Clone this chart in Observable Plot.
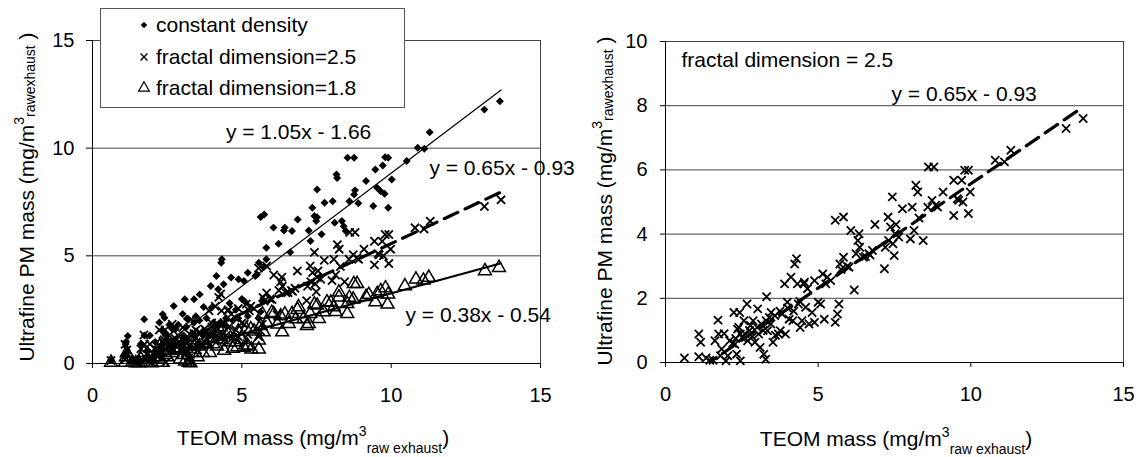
<!DOCTYPE html>
<html><head><meta charset="utf-8">
<script src="https://cdn.jsdelivr.net/npm/d3@7"></script>
<script src="https://cdn.jsdelivr.net/npm/@observablehq/plot@0.6"></script>
<style>
body{margin:0;background:#fff;}
#wrap{position:relative;width:1143px;height:457px;overflow:hidden;background:#fff;}
#left{position:absolute;left:0;top:0;}
#right{position:absolute;left:580px;top:0;}
svg{overflow:visible;}
</style></head><body><div id="wrap"><div id="left"></div><div id="right"></div></div>
<script>
// ---------- DATA ----------
// constant density (filled diamonds), left panel
const cdX = [13.12,13.64,11.29,10.89,11.11,10.52,9.9,9.8,10.02,9.9,
  9.78,9.65,9.53,9.47,9.4,9.16,8.76,8.54,8.79,8.76,
  8.6,8.48,8.35,8.17,8.19,8.04,8.11,7.77,7.67,7.52,
  7.49,7.43,7.36,7.3,6.87,6.68,6.44,6.41,6.06,5.75,
  5.63,5.82,5.82,5.57,5.45,5.2,5.07,4.89,4.64,4.33,
  4.31,4.39,4.21,4.15,3.96,3.59,3.4,3.09,2.72,2.35,
  2.41,1.73,1.18,1.11,
  3.16,3.72,5.51,5.73,6.23,6.62,7.24,7.52,8.41,8.9,9.72,
  0.62,1.09,1.12,1.15,1.33,1.45,1.56,1.62,1.74,1.8,
  1.84,1.92,1.98,2.04,2.1,2.24,2.27,2.33,2.36,2.45,
  2.51,2.57,2.67,2.69,2.78,2.87,2.93,3.02,3.05,3.1,
  3.14,3.22,3.28,3.34,3.4,3.46,3.52,3.58,3.7,3.76,
  3.82,3.93,3.99,4.05,4.17,4.41,4.47,4.59,4.7,4.8,
  4.88,5.0,5.08,5.2,5.56,5.63,5.68];
const cdY = [11.79,12.18,10.74,10.02,9.97,9.4,9.55,9.58,8.55,7.23,
  7.88,8.0,8.16,9.01,7.31,8.47,9.55,9.55,8.04,7.85,
  7.54,6.15,6.62,8.78,8.62,7.54,6.54,7.47,6.0,8.08,
  6.62,6.85,7.23,5.69,6.69,6.15,6.31,6.18,6.31,6.92,
  6.8,4.84,5.38,4.68,4.06,4.22,3.83,3.91,3.99,4.84,
  4.68,3.68,3.45,4.06,3.6,3.21,2.98,2.98,2.67,2.29,
  2.13,2.06,1.28,0.9,
  2.08,2.62,4.13,4.47,5.56,5.17,6.18,6.79,6.37,7.44,9.2,
  0.15,0.4,1.0,0.6,0.2,0.1,0.1,0.9,1.3,0.3,
  0.6,1.3,0.1,0.3,1.0,1.9,0.8,0.4,1.5,1.3,
  1.1,1.8,1.6,1.0,1.6,1.8,0.9,2.3,1.3,0.7,
  1.7,0.4,0.2,1.4,1.9,2.2,0.9,2.0,1.3,1.4,
  2.1,1.3,2.6,1.9,1.8,1.8,2.1,2.8,2.0,2.5,
  2.1,3.0,2.9,2.2,2.1,2.4,2.9];

// fractal dimension = 2.5 (x marks), both panels
const fd25X = [0.62,1.09,1.15,1.09,1.33,1.45,1.56,1.62,1.72,1.74,
  1.8,1.84,1.92,1.98,2.04,2.1,2.24,2.27,2.33,2.36,
  2.43,2.45,2.45,2.51,2.57,2.67,2.69,2.78,2.87,2.93,
  3.02,3.05,3.1,3.14,3.22,3.28,3.31,3.34,3.4,3.46,
  3.52,3.58,3.7,3.76,3.82,3.9,3.93,3.99,4.05,4.11,
  4.17,4.23,4.29,4.32,4.35,4.41,4.47,4.53,4.59,4.7,
  4.8,4.88,4.88,5.0,5.08,5.15,5.2,5.3,5.41,5.56,
  5.56,5.63,5.68,5.71,5.83,5.83,6.01,6.07,6.18,6.24,
  6.3,6.34,6.36,6.48,6.66,6.78,6.86,7.17,7.2,7.29,
  7.31,7.37,7.43,7.49,7.52,7.64,7.76,8.02,8.08,8.14,
  8.2,8.26,8.44,8.59,8.61,8.73,8.79,8.91,9.09,9.44,
  9.44,9.56,9.7,9.74,9.8,9.92,9.92,9.98,10.8,11.1,
  11.31,13.12,13.68,
  2.2,2.3,2.4,2.6,2.75,2.85,3.0,3.2,3.3,3.45,
  3.6,3.75,4.0,4.2,4.4,4.55,4.65,5.25,5.75,5.95,
  6.55,6.7,7.45,7.55,8.3,8.85,9.6];
const fd25Y = [0.14,0.89,0.63,0.18,0.14,0.07,0.07,0.68,1.32,0.89,
  0.21,0.42,0.9,0.05,0.21,0.68,1.56,0.57,0.26,1.04,
  1.56,0.89,0.05,0.78,1.3,1.82,0.68,1.15,1.3,0.63,
  1.67,0.89,0.47,1.2,0.26,0.1,2.05,0.99,1.4,1.56,
  0.63,1.46,0.89,0.99,1.51,2.45,0.89,1.88,1.35,2.66,
  1.3,3.07,3.23,2.45,1.82,1.09,1.3,2.45,1.72,1.2,
  1.56,1.25,2.55,1.88,1.82,2.76,1.35,2.66,2.55,1.25,
  4.43,1.51,1.82,3.07,4.53,3.28,2.97,4.11,2.26,3.39,
  3.8,4.01,3.59,3.28,3.39,3.49,4.3,2.92,3.59,4.53,
  3.8,4.22,5.16,3.33,4.01,3.91,4.79,3.85,4.84,4.11,
  5.52,5.31,3.8,4.84,6.09,5.05,6.09,4.84,5.31,4.58,
  5.68,5.1,5.68,5.0,5.99,5.99,4.64,5.31,6.3,6.25,
  6.61,7.29,7.6,
  0.6,0.75,1.1,0.9,1.0,0.8,1.1,1.0,1.3,1.2,
  0.85,1.6,1.7,1.6,1.9,2.5,2.3,2.45,2.9,3.0,
  3.3,3.35,3.7,4.3,4.5,4.9,5.05];

// fractal dimension = 1.8 (open triangles), left panel
const fd18X = [13.14,13.61,11.26,11.08,10.83,10.46,9.9,9.88,9.81,9.65,
  9.53,9.47,9.25,9.16,8.86,8.75,8.73,8.6,8.53,8.53,
  8.25,8.25,8.08,7.98,7.85,7.74,7.58,7.52,7.43,7.29,
  7.24,7.18,7.07,6.9,6.81,6.68,6.57,6.44,6.35,6.19,
  6.07,6.0,5.73,5.69,5.63,5.57,5.57,5.32,5.18,5.07,
  4.85,
  0.62,1.09,1.12,1.15,1.33,1.45,1.56,1.62,1.72,1.8,
  1.92,1.98,2.1,2.24,2.27,2.33,2.43,2.45,2.51,2.57,
  2.67,2.78,2.87,2.93,3.02,3.05,3.1,3.14,3.22,3.28,
  3.34,3.4,3.46,3.52,3.58,3.7,3.82,3.93,3.99,4.05,
  4.11,4.17,4.23,4.29,4.35,4.41,4.53,4.59,4.7,4.8,
  4.88,5.0,5.15,5.2,5.3,5.41,5.83,6.3,6.86,8.14];
const fd18Y = [4.3,4.45,3.99,3.86,3.91,3.6,3.21,2.75,3.5,3.37,
  3.23,2.85,3.2,3.1,3.7,3.7,2.98,3.06,2.31,2.77,
  3.31,3.08,2.62,2.83,2.85,2.39,2.08,2.7,2.75,2.31,
  1.85,1.75,2.08,2.62,2.06,2.31,1.85,2.29,1.46,1.82,
  2.31,2.36,1.46,2.29,1.75,1.08,0.66,0.66,0.85,0.74,
  0.77,
  0.05,0.05,0.3,0.5,0.05,0.02,0.02,0.2,0.5,0.05,
  0.3,0.02,0.3,0.8,0.2,0.05,0.8,0.4,0.3,0.6,
  0.5,0.6,0.7,0.2,0.9,0.4,0.1,0.7,0.05,0.02,
  0.5,0.8,0.9,0.3,0.8,0.5,0.9,0.5,1.2,0.9,
  1.5,0.8,1.6,1.7,1.1,0.6,1.4,1.0,0.7,1.0,
  1.5,1.1,1.6,0.8,1.6,1.5,1.9,2.2,2.5,2.4];

// regression lines (from the chart's equations)
const fitSlopes = [1.05, 0.65, 0.38];
const fitIntercepts = [-1.66, -0.93, -0.54];
const fitLabels = ["y = 1.05x - 1.66", "y = 0.65x - 0.93", "y = 0.38x - 0.54"];
const fitRange = [0.62, 13.68];

const legendLabels = ["constant density", "fractal dimension=2.5", "fractal dimension=1.8"];
const xTicks = [0, 5, 10, 15];
const yTicksLeft = [0, 5, 10, 15];
const yTicksRight = [0, 2, 4, 6, 8, 10];
const xTitle = ["TEOM mass (mg/m", "3", "raw exhaust", ")"];
const yTitle = ["Ultrafine PM mass (mg/m", "3", "rawexhaust", " )"];
const rightNote = "fractal dimension = 2.5";

// ---------- BUILD ----------
const FONT = "'Liberation Sans', Arial, Helvetica, sans-serif";
const toRows = (xs, ys) => xs.map((x, i) => ({x, y: ys[i]}));
const cd = toRows(cdX, cdY), fd25 = toRows(fd25X, fd25Y), fd18 = toRows(fd18X, fd18Y);
const fitLine = k => fitRange.map(x => ({x, y: fitSlopes[k] * x + fitIntercepts[k]}));

const diamondOpts = {x: "x", y: "y", symbol: "diamond2", fill: "#000", r: 3.6};
const timesOpts = {x: "x", y: "y", symbol: "times", stroke: "#000", r: 3.8, strokeWidth: 1.8};
const triOpts = {x: "x", y: "y", symbol: "triangle", stroke: "#000", fill: "none", r: 4.8, strokeWidth: 1.5};
const dashed = {x: "x", y: "y", stroke: "#000", strokeWidth: 3.2, strokeDasharray: "15,8", clip: true};

const leftPlot = Plot.plot({
  width: 580, height: 457,
  marginLeft: 92, marginRight: 40, marginTop: 40, marginBottom: 94,
  x: {domain: [0, 15]},
  y: {domain: [0, 15]},
  style: {fontFamily: FONT, fontSize: "20px", color: "#000", background: "#fff"},
  marks: [
    Plot.gridY(yTicksLeft.filter(d => d > 0), {stroke: "#444", strokeOpacity: 1}),
    Plot.ruleX([15], {stroke: "#444"}),
    Plot.dot(fd18, triOpts),
    Plot.dot(fd25, timesOpts),
    Plot.dot(cd, diamondOpts),
    Plot.line(fitLine(0), {x: "x", y: "y", stroke: "#000", strokeWidth: 1.2, clip: true}),
    Plot.line(fitLine(1), dashed),
    Plot.line(fitLine(2), {x: "x", y: "y", stroke: "#000", strokeWidth: 2, clip: true}),
    Plot.text([fitLabels[0]], {x: 6.9, y: 10.73, text: d => d, textAnchor: "middle", fontSize: 21}),
    Plot.text([fitLabels[1]], {x: 11.28, y: 9.06, text: d => d, textAnchor: "start", fontSize: 21}),
    Plot.text([fitLabels[2]], {x: 10.48, y: 2.23, text: d => d, textAnchor: "start", fontSize: 21}),
    Plot.ruleY([0], {stroke: "#000"}),
    Plot.ruleX([0], {stroke: "#000"}),
    Plot.axisX({ticks: xTicks, tickSize: 5, tickPadding: 19, label: null, fontSize: 20}),
    Plot.axisY({ticks: yTicksLeft, tickSize: 6, tickPadding: 12, label: null, fontSize: 20})
  ]
});

const rightPlot = Plot.plot({
  width: 563, height: 457,
  marginLeft: 85, marginRight: 20, marginTop: 41, marginBottom: 95,
  x: {domain: [0, 15]},
  y: {domain: [0, 10]},
  style: {fontFamily: FONT, fontSize: "20px", color: "#000", background: "#fff"},
  marks: [
    Plot.gridY(yTicksRight.filter(d => d > 0), {stroke: "#444", strokeOpacity: 1}),
    Plot.ruleX([15], {stroke: "#444"}),
    Plot.dot(fd25, timesOpts),
    Plot.line(fitLine(1), dashed),
    Plot.text([rightNote], {x: 0.52, y: 9.41, text: d => d, textAnchor: "start", fontSize: 21}),
    Plot.text([fitLabels[1]], {x: 7.4, y: 8.35, text: d => d, textAnchor: "start", fontSize: 21}),
    Plot.ruleY([0], {stroke: "#000"}),
    Plot.ruleX([0], {stroke: "#000"}),
    Plot.axisX({ticks: xTicks, tickSize: 5, tickPadding: 19, label: null, fontSize: 20}),
    Plot.axisY({ticks: yTicksRight, tickSize: 5, tickPadding: 13, label: null, fontSize: 20})
  ]
});

// axis titles with super/subscripts
function addXTitle(svg, cx, baseY) {
  const t = d3.select(svg).append("text")
    .attr("x", cx).attr("y", baseY).attr("text-anchor", "middle")
    .attr("font-family", FONT).attr("font-size", 21).attr("fill", "#000");
  t.append("tspan").text(xTitle[0]);
  t.append("tspan").attr("font-size", 14).attr("dy", -9).text(xTitle[1]);
  t.append("tspan").attr("font-size", 14).attr("dy", 17).text(xTitle[2]);
  t.append("tspan").attr("dy", -8).text(xTitle[3]);
}
function addYTitle(svg, bx, cy) {
  const t = d3.select(svg).append("text")
    .attr("transform", `translate(${bx},${cy}) rotate(-90)`).attr("text-anchor", "middle")
    .attr("font-family", FONT).attr("font-size", 21).attr("fill", "#000");
  t.append("tspan").text(yTitle[0]);
  t.append("tspan").attr("font-size", 14).attr("dy", -10).text(yTitle[1]);
  t.append("tspan").attr("font-size", 14).attr("dy", 11).text(yTitle[2]);
  t.append("tspan").attr("dy", -1).text(yTitle[3]);
}
addXTitle(leftPlot, 313, 445);
addYTitle(leftPlot, 34, 197);
addXTitle(rightPlot, 316, 446);
addYTitle(rightPlot, 32, 201);

// legend box (left panel)
(function legend(svg) {
  const g = d3.select(svg).append("g").attr("text-anchor", "start");
  g.append("rect").attr("x", 100.5).attr("y", 8.5).attr("width", 304).attr("height", 99)
    .attr("fill", "#fff").attr("stroke", "#555").attr("stroke-width", 1);
  const rows = [25, 57, 88];
  const syms = [[d3.symbolDiamond2, 3.0, "#000", "none", 0],
                [d3.symbolTimes, 3.2, "none", "#000", 1.4],
                [d3.symbolTriangle, 4.0, "none", "#000", 1.2]];
  legendLabels.forEach((lab, i) => {
    const [s, r, fill, stroke, sw] = syms[i];
    g.append("path").attr("d", d3.symbol(s, r * r * Math.PI)())
      .attr("transform", `translate(144,${rows[i]})`)
      .attr("fill", fill).attr("stroke", stroke).attr("stroke-width", sw);
    g.append("text").attr("x", 156).attr("y", rows[i]).attr("dy", "0.35em")
      .attr("text-anchor", "start")
      .attr("font-family", FONT).attr("font-size", 21).attr("fill", "#000").text(lab);
  });
})(leftPlot);

document.getElementById("left").append(leftPlot);
document.getElementById("right").append(rightPlot);
</script></body></html>
